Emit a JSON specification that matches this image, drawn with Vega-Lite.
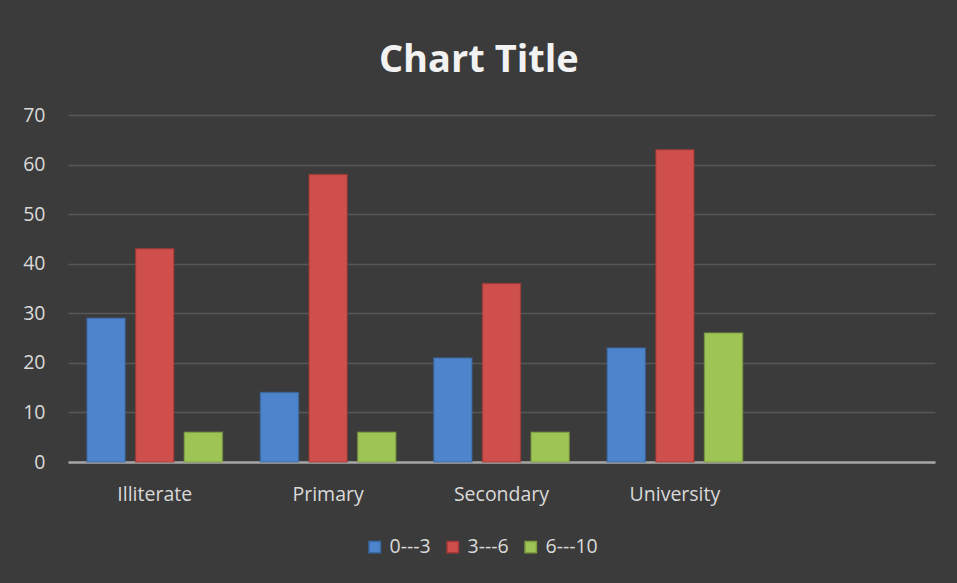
{
  "$schema": "https://vega.github.io/schema/vega-lite/v6.json",
  "width": 867,
  "height": 347,
  "autosize": {"type": "none"},
  "padding": {"left": 68, "top": 115, "right": 22, "bottom": 121},
  "background": "#3b3b3b",
  "title": {
    "text": "Chart Title",
    "frame": "bounds",
    "anchor": "middle",
    "fontSize": 38,
    "font": "Open Sans",
    "fontWeight": "bold",
    "color": "#f2f2f2",
    "limit": 0,
    "offset": 25
  },
  "data": {
    "values": [
      {"level": "Illiterate", "group": "0---3", "value": 29},
      {"level": "Illiterate", "group": "3---6", "value": 43},
      {"level": "Illiterate", "group": "6---10", "value": 6},
      {"level": "Primary", "group": "0---3", "value": 14},
      {"level": "Primary", "group": "3---6", "value": 58},
      {"level": "Primary", "group": "6---10", "value": 6},
      {"level": "Secondary", "group": "0---3", "value": 21},
      {"level": "Secondary", "group": "3---6", "value": 36},
      {"level": "Secondary", "group": "6---10", "value": 6},
      {"level": "University", "group": "0---3", "value": 23},
      {"level": "University", "group": "3---6", "value": 63},
      {"level": "University", "group": "6---10", "value": 26}
    ]
  },
  "mark": {"type": "bar", "strokeWidth": 1.5, "strokeOpacity": 0.6},
  "encoding": {
    "x": {
      "field": "level",
      "type": "nominal",
      "sort": null,
      "scale": {"domain": ["Illiterate", "Primary", "Secondary", "University", " "], "paddingInner": 0, "paddingOuter": 0},
      "axis": {
        "title": null,
        "labelAngle": 0,
        "labelFont": "Open Sans",
        "labelFontSize": 19.5,
        "labelColor": "#d9d9d9",
        "labelPadding": 23,
        "ticks": false,
        "domainColor": "#a6a6a6",
        "domainWidth": 2.5,
        "grid": false
      }
    },
    "xOffset": {
      "field": "group",
      "type": "nominal",
      "scale": {"paddingInner": 0.216, "paddingOuter": 0.39}
    },
    "y": {
      "field": "value",
      "type": "quantitative",
      "scale": {"domain": [0, 70], "nice": false},
      "axis": {
        "title": null,
        "values": [0, 10, 20, 30, 40, 50, 60, 70],
        "labelFont": "Open Sans",
        "labelFontSize": 19.5,
        "labelColor": "#d9d9d9",
        "labelPadding": 23,
        "ticks": false,
        "domain": false,
        "gridColor": "#575757",
        "gridWidth": 1.5
      }
    },
    "color": {
      "field": "group",
      "type": "nominal",
      "scale": {"domain": ["0---3", "3---6", "6---10"], "range": ["#4d84cb", "#ce4f4c", "#9fc456"]},
      "legend": {
        "title": null,
        "orient": "none",
        "direction": "horizontal",
        "legendX": 297,
        "legendY": 422,
        "symbolType": "square",
        "symbolSize": 130,
        "labelFont": "Open Sans",
        "labelFontSize": 19.5,
        "labelColor": "#d9d9d9",
        "columnPadding": 12,
        "labelOffset": 5
      }
    },
    "stroke": {
      "field": "group",
      "type": "nominal",
      "scale": {"domain": ["0---3", "3---6", "6---10"], "range": ["#3a6aa8", "#a83936", "#7f9e40"]},
      "legend": null
    }
  },
  "config": {"view": {"stroke": null}}
}
